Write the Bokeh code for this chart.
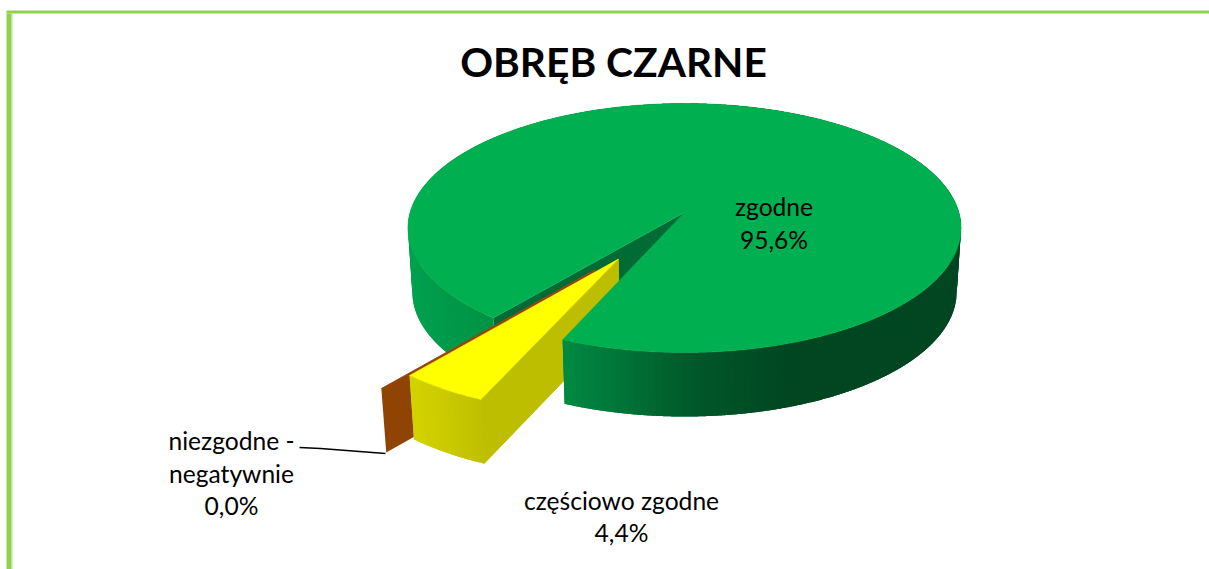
import math
from bokeh.plotting import figure
from bokeh.embed import file_html
from bokeh.resources import INLINE
from bokeh.core.properties import value

title = "OBRĘB CZARNE"
categories = ["zgodne", "częściowo zgodne", "niezgodne - negatywnie"]
shares = [95.6, 4.4, 0.0]
first_angle = 219.0
explode = [0.0, 0.43, 0.538]
explode_dir = [None, 212.4, 214.9]

FONT = "Lato"
TOP_GREEN, INNER_GREEN = "#00B050", "#006B35"
TOP_YELLOW, SIDE_YELLOW = "#FFFF00", "#BEBE00"
BROWN_TOP, BROWN = "#A04A00", "#8F4404"
FRAME, FRAME_LIGHT = "#92D050", "#B5E08A"

CX, CY = 684.0, 212.0
A, B, K = 274.4, 122.6, 0.1245
DEPTH, SHRINK = 64.0, 0.984

GREEN_STOPS = [(400, (0, 162, 79)), (493, (0, 146, 68)), (563, (0, 138, 66)), (620, (0, 116, 55)),
               (700, (0, 86, 41)), (790, (0, 70, 33)), (970, (0, 70, 33))]
YELLOW_STOPS = [(405, (212, 212, 0)), (445, (202, 202, 0)), (490, (188, 188, 0))]


def hexcolor(stops, x):
    if x <= stops[0][0]:
        c = stops[0][1]
    elif x >= stops[-1][0]:
        c = stops[-1][1]
    else:
        for (x0, c0), (x1, c1) in zip(stops, stops[1:]):
            if x0 <= x <= x1:
                t = (x - x0) / (x1 - x0)
                c = tuple(a + (b - a) * t for a, b in zip(c0, c1))
                break
    return "#%02x%02x%02x" % tuple(int(round(v)) for v in c)


def project(u, v):
    w = 1 - K * v
    return CX + A * u / w, CY + B * v / w


def rim(theta, off):
    r = math.radians(theta)
    return project(math.sin(r) + off[0], -math.cos(r) + off[1])


def lower(pt):
    return CX + (pt[0] - CX) * SHRINK, pt[1] + DEPTH


# slice angles derived from the values
total = sum(shares)
spans = []
a = first_angle
for s in shares:
    b = a + s / total * 360
    spans.append((a, b))
    a = b
offsets = []
for (a0, a1), e, d in zip(spans, explode, explode_dir):
    m = math.radians(d if d is not None else (a0 + a1) / 2)
    offsets.append((e * math.sin(m), -e * math.cos(m)))

p = figure(width=1209, height=569, x_range=(0, 1209), y_range=(569, 0), toolbar_location=None,
           output_backend="svg", min_border=0, outline_line_color=None)
p.axis.visible = False
p.grid.visible = False


def fill(pts, color):
    xs, ys = zip(*pts)
    p.patch(list(xs), list(ys), fill_color=color, line_color=color, line_width=0.5)


def wall(a0, a1, off, stops, n, step=6):
    # each strip runs on under the next one, so that no seam shows between them
    xs, ys, cs = [], [], []
    da = (a1 - a0) / n
    for i in range(n):
        t0 = a0 + da * i
        m = min(i + 1 + 1, n)
        pts = [rim(t0 + da * j / step, off) for j in range(0, (m - i) * step + 1)]
        low = [lower(q) for q in reversed(pts)]
        poly = pts + low
        xs.append([q[0] for q in poly])
        ys.append([q[1] for q in poly])
        cs.append(hexcolor(stops, rim(t0 + da / 2, off)[0]))
    p.patches(xs, ys, fill_color=cs, line_color=None)


def top(a0, a1, off, color):
    n = max(2, int((a1 - a0) * 2))
    pts = [project(*off)] + [rim(a0 + (a1 - a0) * i / n, off) for i in range(n + 1)]
    fill(pts, color)


def radial(theta, off, color, stroke=None):
    c, r = project(*off), rim(theta, off)
    xs, ys = zip(c, r, lower(r), lower(c))
    p.patch(list(xs), list(ys), fill_color=color, line_color=stroke, line_width=1.0)


(g0, g1), (y0, y1), (b0, b1) = spans
og, oy, ob = offsets

# frame
p.quad(left=[6], right=[11], top=[13], bottom=[569], fill_color=FRAME, line_color=None)
p.quad(left=[11], right=[12], top=[13], bottom=[569], fill_color=FRAME_LIGHT, line_color=None)
p.quad(left=[6], right=[1209], top=[10], bottom=[13], fill_color=FRAME, line_color=None)

# far-left green wall and its cut face
wall(g0, 360, og, GREEN_STOPS, 60)
radial(g0, og, INNER_GREEN)
# brown zero slice
radial(b0, ob, BROWN)
c, r = project(*ob), rim(b0, ob)
p.line([c[0], r[0]], [c[1], r[1]], line_color=BROWN_TOP, line_width=1.0)
# yellow slice
wall(y0, y1, oy, YELLOW_STOPS, 16)
radial(y0, oy, SIDE_YELLOW, SIDE_YELLOW)
top(y0, y1, oy, TOP_YELLOW)
# green front wall and top
wall(360, g1, og, GREEN_STOPS, 160)
top(g0, g1, og, TOP_GREEN)

# leader
p.line([299, 320, 385], [447, 448, 453], line_color="black", line_width=1.5)


def pct(v):
    return f"{v:.1f}%".replace(".", ",")


def label(x, y, s, size="24.6px", style="normal"):
    p.text([x], [y], text=[s], text_font=value(FONT), text_font_size=size, text_font_style=style,
           text_color="black", text_align="center", text_baseline="middle")


label(613, 60.5, title, "40.7px", "bold")
label(773.5, 206, "zgodne")
label(773.5, 238.5, pct(shares[0]))
label(621, 499.5, "częściowo zgodne")
label(621, 532, pct(shares[1]))
label(231, 440, "niezgodne -")
label(231, 472.5, "negatywnie")
label(231, 505, pct(shares[2]))

open("out.html", "w").write(file_html(p, INLINE))
